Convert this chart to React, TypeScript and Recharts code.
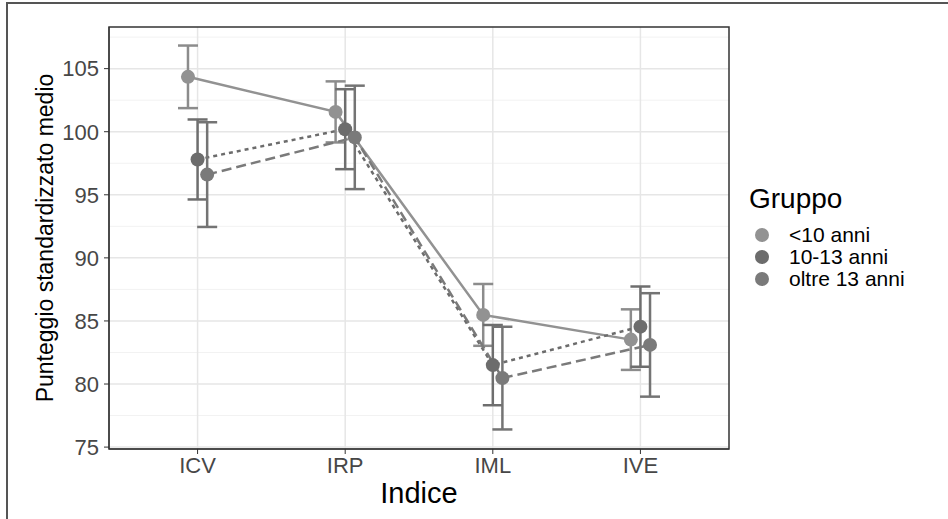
import React from 'react';
import {
  ComposedChart,
  Line,
  ErrorBar,
  XAxis,
  YAxis,
  CartesianGrid,
  ReferenceArea,
} from 'recharts';

const categories = ['ICV', 'IRP', 'IML', 'IVE'];
const groups = ['<10 anni', '10-13 anni', 'oltre 13 anni'];

const meanUnder10 = [104.35, 101.57, 85.48, 83.52];
const errUnder10 = [2.48, 2.42, 2.45, 2.4];
const mean10to13 = [97.8, 100.2, 81.5, 84.55];
const err10to13 = [3.17, 3.17, 3.18, 3.18];
const meanOver13 = [96.6, 99.55, 80.47, 83.1];
const errOver13 = [4.15, 4.1, 4.07, 4.1];

const yTicks = [75, 80, 85, 90, 95, 100, 105];
const yMinor = [77.5, 82.5, 87.5, 92.5, 97.5, 102.5, 107.5];

const Y_DOMAIN: [number, number] = [74.85, 108.3];
const X_DOMAIN: [number, number] = [0.4, 4.6];
const DODGE = 0.065;

const FONT = '"Liberation Sans", Arial, sans-serif';

const series = [
  { name: groups[0], means: meanUnder10, errs: errUnder10, color: '#929292', bar: '#8c8c8c', dash: undefined, shift: -1 },
  { name: groups[1], means: mean10to13, errs: err10to13, color: '#6c6c6c', bar: '#6e6e6e', dash: '4 4', shift: 0 },
  { name: groups[2], means: meanOver13, errs: errOver13, color: '#7a7a7a', bar: '#747474', dash: '10 5', shift: 1 },
];

const buildRows = (means: number[], errs: number[], shift: number) =>
  categories.map((_, i) => ({ x: i + 1 + shift * DODGE, y: means[i], err: errs[i] }));

function LegendBox() {
  return (
    <div style={{ position: 'absolute', left: 749, top: 182, fontFamily: FONT, color: '#000' }}>
      <div style={{ fontSize: 28, marginBottom: 8, lineHeight: '34px' }}>Gruppo</div>
      {series.map((s) => (
        <div key={s.name} style={{ display: 'flex', alignItems: 'center', height: 22 }}>
          <svg width={26} height={22}>
            <circle cx={13} cy={11} r={7} fill={s.color} />
          </svg>
          <span style={{ fontSize: 21, marginLeft: 14, lineHeight: '22px' }}>{s.name}</span>
        </div>
      ))}
    </div>
  );
}

export default function App() {
  return (
    <div
      style={{
        position: 'absolute',
        left: 0,
        top: 0,
        width: 948,
        height: 519,
        overflow: 'hidden',
        background: '#fff',
        fontFamily: FONT,
      }}
    >
      <div
        style={{
          position: 'absolute',
          left: 6,
          top: 2,
          width: 1000,
          height: 600,
          border: '2px solid #555',
          boxSizing: 'border-box',
        }}
      />
      <ComposedChart
        width={948}
        height={519}
        margin={{ top: 27, right: 219, bottom: 40, left: 49 }}
        style={{ position: 'absolute', left: 0, top: 0 }}
      >
        <CartesianGrid
          horizontalValues={yMinor}
          vertical={false}
          stroke="#f2f2f2"
          strokeWidth={1}
        />
        <CartesianGrid
          horizontalValues={yTicks}
          verticalValues={[1, 2, 3, 4]}
          stroke="#e6e6e6"
          strokeWidth={1.5}
        />
        <XAxis
          type="number"
          dataKey="x"
          domain={X_DOMAIN}
          ticks={[1, 2, 3, 4]}
          tickFormatter={(v: number) => categories[Math.round(v) - 1]}
          allowDataOverflow
          height={30}
          tickSize={5}
          tickMargin={3}
          tick={{ fill: '#474747', fontSize: 22, fontFamily: FONT }}
          tickLine={{ stroke: '#333' }}
          axisLine={{ stroke: '#333' }}
        />
        <YAxis
          type="number"
          domain={Y_DOMAIN}
          ticks={yTicks}
          allowDataOverflow
          width={60}
          tickSize={5}
          tickMargin={5}
          tick={{ fill: '#474747', fontSize: 22, fontFamily: FONT }}
          tickLine={{ stroke: '#333' }}
          axisLine={{ stroke: '#333' }}
        />
        <ReferenceArea
          x1={X_DOMAIN[0]}
          x2={X_DOMAIN[1]}
          y1={Y_DOMAIN[0]}
          y2={Y_DOMAIN[1]}
          fill="none"
          stroke="#333"
          strokeWidth={1.5}
          ifOverflow="extendDomain"
        />
        {series.map((s) => (
          <Line
            key={s.name}
            data={buildRows(s.means, s.errs, s.shift)}
            dataKey="y"
            name={s.name}
            type="linear"
            stroke={s.color}
            strokeWidth={2.5}
            strokeDasharray={s.dash}
            dot={{ r: 7, fill: s.color, stroke: s.color, strokeWidth: 0, strokeDasharray: '' }}
            activeDot={false}
            isAnimationActive={false}
          >
            <ErrorBar dataKey="err" direction="y" width={10} stroke={s.bar} strokeWidth={2.5} />
          </Line>
        ))}
      </ComposedChart>
      <LegendBox />
      <div
        style={{
          position: 'absolute',
          left: 109,
          width: 620,
          top: 477,
          textAlign: 'center',
          fontSize: 29,
          color: '#000',
        }}
      >
        Indice
      </div>
      <div
        style={{
          position: 'absolute',
          left: 45,
          top: 238,
          transform: 'translate(-50%, -50%) rotate(-90deg)',
          whiteSpace: 'nowrap',
          fontSize: 23,
          color: '#000',
        }}
      >
        Punteggio standardizzato medio
      </div>
    </div>
  );
}
